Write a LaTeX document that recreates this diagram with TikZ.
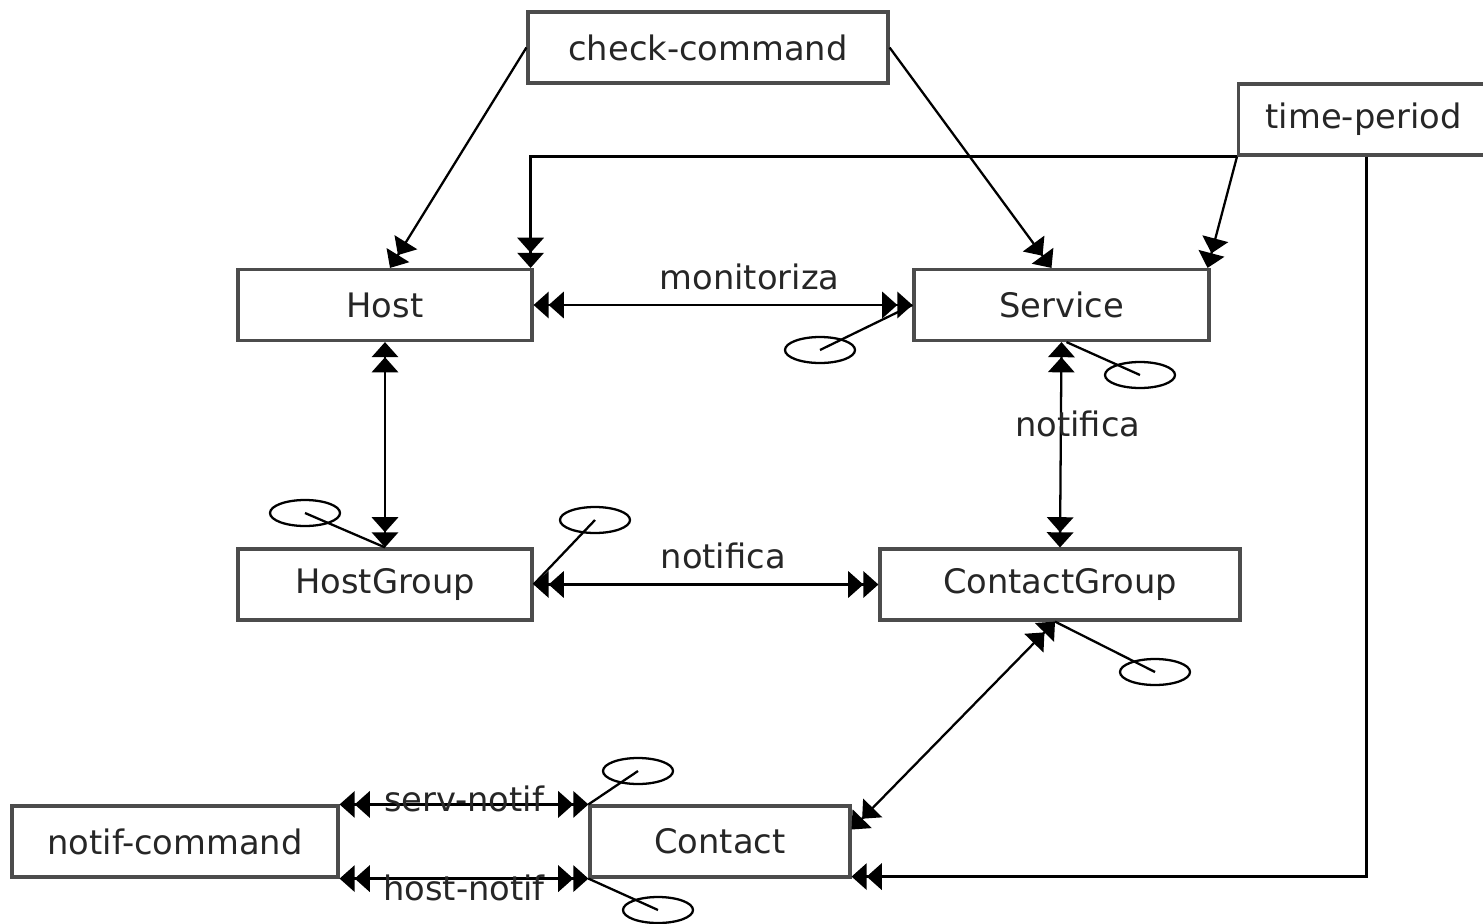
\documentclass[tikz,border=0pt]{standalone}
\usepackage{fontspec}
\setsansfont{DejaVu Sans}
\usepackage{tikz}
\usetikzlibrary{positioning,calc,arrows.meta,shapes.geometric}

\tikzset{
	obj/.style={draw=black!70, line width=0.9pt, minimum height=0.71cm, inner sep=0pt, font=\sffamily\fontsize{9.6}{12}\selectfont, text=black!85},
	rel/.style={line width=0.65pt, >={Triangle[length=4.3pt,width=7.5pt]}},
	lbl/.style={font=\sffamily\fontsize{9.6}{12}\selectfont, text=black!85, inner sep=1pt},
	card/.style={draw, ellipse, line width=0.65pt, minimum width=0.7cm, minimum height=0.26cm, inner sep=0pt},
}

\begin{document}
\begin{tikzpicture}
		\useasboundingbox (0,0) rectangle (14.83,-9.23);
		\node[obj, minimum width=3.6cm] (cc) at (7.08,-0.475) {check-command};
		\node[obj, minimum width=2.5cm, anchor=west] (tp) at (12.37,-1.195) {time-period};
		\node[obj, minimum width=2.94cm] (host) at (3.85,-3.05) {Host};
		\node[obj, minimum width=2.95cm] (serv) at (10.615,-3.05) {Service};
		\node[obj, minimum width=2.94cm] (hg) at (3.85,-5.845) {HostGroup};
		\node[obj, minimum width=3.6cm] (cg) at (10.6,-5.845) {ContactGroup};
		\node[obj, minimum width=3.26cm] (nc) at (1.75,-8.415) {notif-command};
		\node[obj, minimum width=2.6cm] (ct) at (7.2,-8.415) {Contact};
		
		\node[card] (e1) at (8.2,-3.5) {};
		\node[card] (e2) at (11.4,-3.75) {};
		\node[card] (e3) at (3.05,-5.13) {};
		\node[card] (e4) at (5.95,-5.2) {};
		\node[card] (e5) at (11.55,-6.72) {};
		\node[card] (e6) at (6.38,-7.71) {};
		\node[card] (e7) at (6.58,-9.1) {};
		
		\draw[rel,->>] (cc.west)--([xshift=0.05cm]host.north);
		\draw[rel,->>] (cc.east)--([xshift=-0.1cm]serv.north);
		\draw[rel,->>] (tp.south west)-|([xshift=-0.03cm]host.north east);
		\draw[rel,->>] (tp.south west)--([xshift=-0.03cm]serv.north east);
		\draw[rel,->>] ([xshift=0.03cm]tp.south)|-([yshift=0.02cm]ct.south east);
		
		\draw[rel,<<->>] (host.east)--(serv.west) node[lbl, above=3pt, pos=0.57] (l1) {monitoriza};
		\draw[rel,<<->>] (serv.south)--(cg.north) node[lbl, pos=0.4, xshift=0.17cm] (l2) {notifica};
		\draw[rel,<<->>] (host.south)--(hg.north);
		\draw[rel,<<->>] (hg.east)--(cg.west) node[lbl, above=3pt, pos=0.55] (l3) {notifica};
		\draw[rel,<<->>] ([xshift=-0.05cm]cg.south)--([yshift=0.12cm]ct.east);
		\draw[rel,<<->>] (nc.north east)--(ct.north west) node[lbl, above=-3.5pt, midway] (l4) {serv-notif};
		\draw[rel,<<->>] (nc.south east)--(ct.south west) node[lbl, below=-2.5pt, midway] (l5) {host-notif};
		
		\draw[rel] (e1.center)--(serv.west);
		\draw[rel] (e2.center)--([xshift=0.05cm]serv.south);
		\draw[rel] (e3.center)--(hg.north);
		\draw[rel] (e4.center)--(hg.east);
		\draw[rel] (e5.center)--([xshift=-0.05cm]cg.south);
		\draw[rel] (e6.center)--(ct.north west);
		\draw[rel] (e7.center)--(ct.south west);
	\end{tikzpicture}
\end{document}
